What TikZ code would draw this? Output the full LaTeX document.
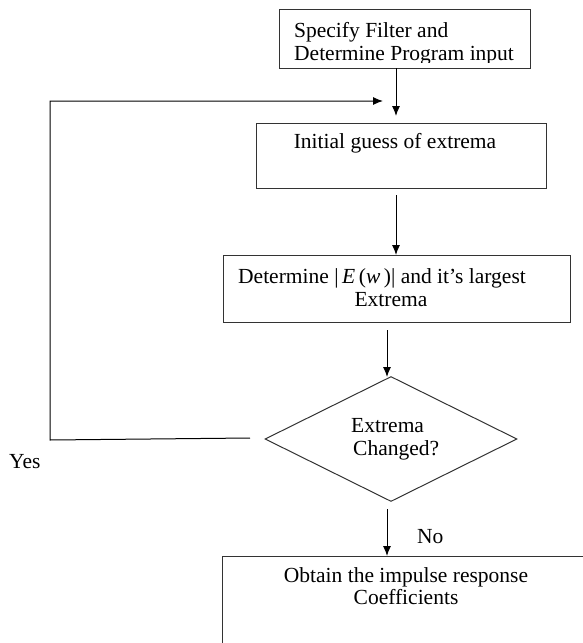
\documentclass[tikz,border=0pt]{standalone}
\usepackage{fontspec}
\setmainfont{Liberation Serif}
\usetikzlibrary{arrows.meta,shapes.geometric}
\begin{document}
\begin{tikzpicture}[x=1pt,y=-1pt,
  box/.style={draw=black!80,line width=1pt,minimum width=#1,inner sep=0pt},
  txt/.style={font=\fontsize{21.5}{24}\selectfont,inner sep=0pt},
  arr/.style={-{Latex[length=10pt,width=8pt]},line width=1pt,black},
  line/.style={line width=1pt,black!85}]
\useasboundingbox (0,0) rectangle (583,643);
\clip (0,0) rectangle (583,643);
% boxes
\node[box=251pt,minimum height=59pt] (b1) at (404.5,38.5) {};
\node[box=290pt,minimum height=65pt] (b2) at (401,155.5) {};
\node[box=347pt,minimum height=67pt] (b3) at (396.5,288.5) {};
\node[diamond,draw=black!80,line width=1pt,minimum width=252pt,minimum height=125pt,inner sep=0pt] (d) at (391,439) {};
\node[box=380pt,minimum height=110pt,anchor=north west] (b4) at (222,556) {};
% texts
\begin{scope}
\clip (279,9) rectangle (530,62);
\node[txt,anchor=base west] (t1a) at (294,37) {Specify Filter and};
\node[txt,anchor=base west] (t1b) at (294,60) {Determine Program input};
\end{scope}
\node[txt,anchor=base] (t2) at (395,148) {Initial guess of extrema};
\node[txt,anchor=base west] (t3a) at (238,283) {Determine |\,\textit{E}\,(\textit{w}\,)| and it’s largest};
\node[txt,anchor=base] (t3b) at (391,306) {Extrema};
\node[txt,anchor=base west] (t4a) at (351,432) {Extrema};
\node[txt,anchor=base west] (t4b) at (353,455) {Changed?};
\node[txt,anchor=base] (t5a) at (406,582) {Obtain the impulse response};
\node[txt,anchor=base] (t5b) at (406,604) {Coefficients};
\node[txt,anchor=base west] (yes) at (9,468) {Yes};
\node[txt,anchor=base west] (no) at (417,543) {No};
% connector endpoints
\coordinate (a1s) at (396,68);
\coordinate (a1e) at (396,116);
\coordinate (a2s) at (396,195);
\coordinate (a2e) at (396,255);
\coordinate (a3s) at (387,330);
\coordinate (a3e) at (387,377);
\coordinate (a4s) at (387,509);
\coordinate (a4e) at (387,556);
\coordinate (fbs) at (250,438);
\coordinate (fbc1) at (50,440);
\coordinate (fbc2) at (50,101);
\coordinate (fbe) at (383,101);
% connectors
\draw[arr] (a1s) -- (a1e);
\draw[arr] (a2s) -- (a2e);
\draw[arr] (a3s) -- (a3e);
\draw[arr] (a4s) -- (a4e);
\draw[arr] (fbs) -- (fbc1) -- (fbc2) -- (fbe);
\end{tikzpicture}
\end{document}
